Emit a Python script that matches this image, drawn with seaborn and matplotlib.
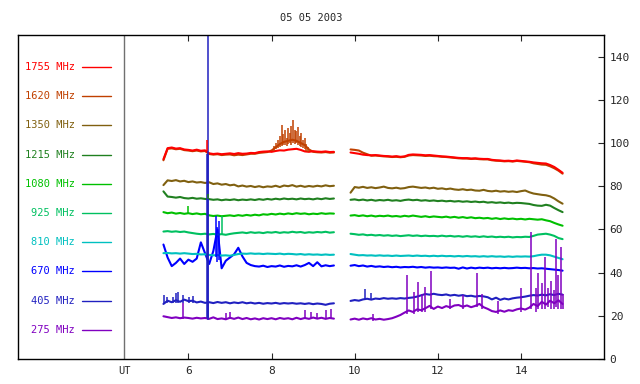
import numpy as np
import pandas as pd
import matplotlib
matplotlib.use("Agg")
import matplotlib.pyplot as plt
import seaborn as sns

sns.set_style("white")
plt.rcParams['font.family'] = ['DejaVu Sans Mono']

# sampling grid (UT hours) of the two recording segments
t_a = np.round(np.arange(5.4, 9.55, 0.1), 2)
t_b = np.round(np.arange(9.9, 15.05, 0.1), 2)

bands = ["1755", "1620", "1350", "1215", "1080", "925", "810", "670", "405", "275"]
colors = ["#ff0000", "#c04000", "#806010", "#208020", "#00c000",
          "#00c060", "#00c0c0", "#0000ff", "#2020c0", "#8000c0"]

# flux values (segment a: 5.4-9.5 UT, segment b: 9.9-15.0 UT)
f1755_a = [92.5, 97.6, 97.9, 97.4, 97.6, 97.0, 96.8, 96.5, 96.9, 96.4, 96.6, 95.2, 94.9, 95.1,
           94.8, 95.0, 95.2, 94.9, 95.3, 95.0, 95.1, 95.4, 95.3, 95.8, 96.0, 96.1, 95.9, 96.3,
           96.6, 96.5, 96.9, 97.1, 97.3, 96.8, 96.1, 95.9, 96.2, 96.0, 95.9, 96.1, 95.8, 95.9]
f1755_b = [95.6, 95.3, 95.0, 94.6, 94.4, 94.3, 94.4, 94.2, 94.0, 93.9, 93.7, 93.9, 93.6, 93.8,
           94.5, 94.7, 94.6, 94.5, 94.3, 94.4, 94.2, 94.0, 93.8, 93.7, 93.5, 93.3, 93.1, 93.0,
           93.0, 92.8, 92.9, 92.7, 92.6, 92.6, 92.2, 92.0, 91.9, 91.7, 91.8, 91.6, 91.9, 91.7,
           91.5, 91.3, 91.0, 90.8, 90.6, 90.5, 89.8, 88.9, 87.6, 86.2]
f1620_a = [92.0, 97.3, 97.5, 97.1, 97.3, 96.7, 96.5, 96.2, 96.5, 96.1, 96.3, 94.9, 94.6, 94.8,
           94.4, 94.6, 94.7, 94.3, 94.6, 94.4, 94.7, 95.0, 95.0, 95.4, 95.6, 95.8, 96.5, 98.0,
           99.5, 100.5, 101.0, 101.5, 101.0, 100.0, 99.0, 97.0, 95.9, 95.7, 95.6, 95.8, 95.5, 95.6]
f1620_b = [97.0, 96.8, 96.5, 95.5, 94.8, 94.1, 94.2, 94.0, 93.8, 93.7, 93.5, 93.6, 93.4, 93.6,
           94.2, 94.4, 94.3, 94.2, 94.0, 94.1, 93.9, 93.8, 93.6, 93.5, 93.3, 93.1, 92.9, 92.8,
           92.8, 92.6, 92.7, 92.5, 92.4, 92.4, 92.0, 91.8, 91.7, 91.5, 91.6, 91.4, 91.7, 91.5,
           91.3, 91.1, 90.6, 90.3, 90.0, 89.9, 89.2, 88.3, 87.2, 85.8]
f1350_a = [80.5, 82.7, 82.4, 82.8, 82.2, 82.5, 81.9, 82.2, 81.7, 81.9, 81.5, 81.8, 81.0, 81.3,
           80.7, 81.0, 80.4, 80.7, 79.9, 80.3, 79.8, 80.1, 79.6, 80.0, 79.5, 79.9, 79.7, 80.2,
           79.6, 80.3, 80.0, 80.5, 79.8, 80.2, 79.7, 80.1, 79.8, 80.2, 79.9, 80.4, 80.0, 80.2]
f1350_b = [77.0, 79.6, 79.3, 79.7, 79.2, 79.5, 79.1, 79.4, 79.8, 79.2, 79.0, 79.3, 78.9, 79.1,
           79.6, 79.8, 79.5, 79.2, 79.4, 79.0, 79.3, 78.8, 79.0, 78.6, 78.9, 78.5, 78.3, 78.6,
           78.2, 78.4, 78.0, 77.9, 78.3, 77.8, 77.6, 77.9, 77.5, 77.7, 77.4, 77.6, 77.3, 77.7,
           78.0, 77.2, 76.6, 76.3, 76.0, 75.8, 75.3, 74.3, 73.0, 71.9]
f1215_a = [77.6, 75.2, 75.0, 74.7, 75.0, 74.5, 74.3, 74.6, 74.2, 74.4, 74.1, 74.0, 73.7, 73.9,
           73.5, 73.8, 73.6, 73.9, 73.5, 73.8, 73.6, 73.9, 73.6, 74.0, 73.7, 74.1, 73.8, 74.2,
           73.9, 74.3, 74.0, 74.2, 73.9, 74.3, 74.0, 74.2, 73.9, 74.3, 74.0, 74.4, 74.1, 74.3]
f1215_b = [73.7, 73.9, 73.5, 73.8, 73.4, 73.7, 73.3, 73.6, 73.4, 73.7, 73.3, 73.5, 73.2, 73.6,
           73.8, 73.5, 73.7, 73.3, 73.5, 73.2, 73.4, 73.1, 73.3, 73.0, 73.2, 72.9, 73.1, 72.8,
           73.0, 72.7, 72.9, 72.6, 72.8, 72.4, 72.6, 72.3, 72.5, 72.2, 72.4, 72.1, 72.3, 72.2,
           72.0, 71.8, 71.3, 71.0, 70.9, 71.4, 71.0, 69.9, 68.9, 68.0]
f1080_a = [68.0, 67.5, 67.8, 67.3, 67.6, 67.2, 67.5, 67.1, 67.4, 67.0, 67.2, 66.5, 66.2, 66.4,
           66.1, 66.3, 66.5, 66.2, 66.6, 66.3, 66.7, 66.4, 66.8, 66.5, 67.0, 66.8, 67.2, 66.9,
           67.3, 67.0, 67.4, 67.1, 67.5, 67.2, 67.4, 67.0, 67.3, 67.1, 67.5, 67.2, 67.4, 67.3]
f1080_b = [66.4, 66.6, 66.2, 66.5, 66.1, 66.4, 66.0, 66.3, 66.1, 66.4, 66.0, 66.2, 65.9, 66.3,
           66.0, 66.4, 66.1, 65.8, 66.1, 65.7, 66.0, 65.8, 65.6, 65.9, 65.5, 65.8, 65.4, 65.7,
           65.3, 65.6, 65.2, 65.4, 65.1, 65.3, 64.9, 65.2, 64.8, 65.1, 64.8, 65.0, 64.7, 64.9,
           64.6, 64.9, 64.7, 64.5, 64.7, 64.2, 63.8, 63.0, 62.3, 61.7]
f925_a = [59.0, 59.2, 58.9, 59.1, 58.8, 59.0, 58.6, 58.3, 58.0, 57.8, 58.0, 57.7, 57.9, 57.6,
          57.8, 57.5, 57.9, 58.2, 58.4, 58.6, 58.3, 58.7, 58.4, 58.6, 58.3, 58.7, 58.5, 58.8,
          58.4, 58.7, 58.5, 58.9, 58.6, 58.8, 58.4, 58.7, 58.5, 58.8, 58.6, 58.9, 58.5, 58.7]
f925_b = [58.0, 57.8, 57.5, 57.7, 57.3, 57.5, 57.2, 57.4, 57.1, 57.3, 57.0, 57.2, 56.9, 57.1,
          57.3, 57.0, 57.2, 56.9, 57.1, 56.9, 57.0, 56.8, 57.1, 56.8, 57.0, 56.7, 56.9, 56.6,
          56.9, 56.6, 56.8, 56.5, 56.8, 56.5, 56.7, 56.4, 56.6, 56.4, 56.6, 56.3, 56.5, 56.4,
          56.6, 56.5, 57.0, 57.6, 57.8, 58.0, 57.6, 57.0, 56.0, 55.5]
f810_a = [49.0, 49.1, 48.9, 49.0, 48.8, 49.0, 48.8, 48.6, 48.7, 48.4, 48.5, 48.2, 48.0, 48.1,
          47.9, 48.0, 47.8, 48.2, 48.6, 48.8, 48.7, 48.9, 48.7, 48.8, 48.6, 48.8, 48.7, 48.6,
          48.8, 48.5, 48.7, 48.6, 48.4, 48.6, 48.3, 48.5, 48.3, 48.4, 48.2, 48.4, 48.2, 48.3]
f810_b = [48.6, 48.3, 48.0, 48.1, 47.9, 48.0, 47.8, 48.0, 47.8, 47.9, 47.7, 47.9, 47.7, 47.8,
          47.9, 47.7, 47.9, 47.7, 47.8, 47.6, 47.8, 47.6, 47.8, 47.6, 47.7, 47.5, 47.7, 47.5,
          47.7, 47.5, 47.6, 47.4, 47.6, 47.4, 47.6, 47.4, 47.5, 47.3, 47.5, 47.3, 47.5, 47.4,
          47.5, 47.4, 47.6, 48.0, 48.3, 48.3, 48.0, 47.4, 46.8, 46.2]
f670_a = [53.0, 47.0, 43.0, 44.5, 46.5, 44.0, 46.0, 45.0, 46.5, 54.0, 49.0, 44.0, 50.0, 60.0,
          42.0, 45.5, 47.0, 48.5, 51.5, 47.5, 44.5, 43.5, 43.0, 42.8, 43.2, 42.6, 43.0, 42.8,
          43.3, 42.7, 43.1, 42.9, 43.4, 42.8, 43.5, 44.5, 43.0, 44.8, 42.9, 43.4, 43.0, 43.3]
f670_b = [43.2, 43.5, 43.0, 43.3, 42.8, 43.1, 42.7, 42.9, 42.6, 42.8, 42.5, 42.7, 42.4, 42.6,
          42.5, 42.7, 42.4, 42.6, 42.3, 42.5, 42.3, 42.4, 42.2, 42.4, 42.2, 42.3, 41.8, 42.4,
          41.9, 42.3, 42.0, 42.3, 42.1, 42.3, 42.0, 42.2, 42.0, 42.2, 42.0, 42.1, 42.3, 42.1,
          42.2, 42.0, 42.1, 41.9, 42.0, 41.8, 41.6, 41.4, 41.2, 40.9]
f405_a = [25.5, 27.0, 26.3, 27.2, 26.5, 27.5, 26.8, 27.0, 26.2, 26.6, 26.0, 26.3, 25.9, 26.4,
          26.0, 26.3, 25.8, 26.2, 25.9, 26.3, 25.8, 26.1, 25.7, 26.0, 25.6, 25.9, 25.7, 26.0,
          25.6, 25.9, 25.7, 25.9, 25.6, 25.8, 25.5, 25.8, 25.4, 25.7, 25.5, 25.1, 25.6, 25.8]
f405_b = [26.9, 27.3, 27.0, 27.6, 27.9, 27.5, 28.0, 27.8, 28.2, 27.9, 28.1, 27.9, 28.2, 28.0,
          28.3, 28.5, 28.9, 29.5, 30.1, 29.8, 30.2, 29.8, 29.6, 29.9, 29.4, 29.7, 29.3, 29.6,
          29.1, 29.3, 28.9, 29.2, 29.0, 28.6, 27.6, 28.4, 27.4, 28.0, 27.6, 28.1, 28.4, 28.6,
          28.9, 29.3, 29.6, 29.4, 29.8, 29.5, 30.0, 29.6, 30.2, 29.8]
f275_a = [19.8, 19.4, 19.0, 19.3, 18.9, 19.2, 19.0, 18.7, 19.1, 18.8, 19.0, 18.6, 19.3, 18.5,
          18.8, 18.4, 19.1, 18.6, 19.2, 18.5, 19.0, 18.4, 18.8, 18.3, 18.9, 18.5, 18.9, 18.4,
          19.0, 18.6, 18.9, 18.4, 19.1, 18.5, 19.0, 18.6, 19.2, 18.7, 19.1, 18.6, 19.0, 18.7]
f275_b = [18.3, 18.7, 18.2, 18.8, 18.4, 18.9, 18.3, 18.6, 18.2, 18.5, 18.9, 19.6, 20.4, 21.5,
          22.5, 21.8, 23.0, 22.6, 23.5, 24.6, 23.2, 24.3, 23.6, 24.5, 23.9, 24.8, 25.0, 24.2,
          24.8, 24.0, 24.6, 25.5, 24.0, 23.2, 22.2, 21.8, 22.5, 21.9, 22.6, 22.3, 23.0, 23.4,
          22.9, 23.8, 25.5, 24.5, 26.5, 25.2, 27.0, 25.8, 27.2, 25.5]

# short spikes / bursts: band, UT, low and high flux
spike_band = (["1620"] * 21 + ["1755", "1215", "1080", "925"] + ["670"] * 3
              + ["405"] * 13 + ["275"] * 34)
spike_t = [8.05, 8.1, 8.15, 8.2, 8.24, 8.28, 8.32, 8.36, 8.4, 8.44, 8.48, 8.52, 8.56, 8.6,
           8.64, 8.68, 8.72, 8.76, 8.8, 8.84, 8.88,
           6.45, 6.46, 6.0, 6.8,
           6.66, 6.7, 6.74,
           6.46, 6.45, 6.47, 5.42, 5.48, 5.62, 5.7, 5.76, 5.88, 6.02, 6.1, 10.25, 10.4,
           5.86, 6.46, 6.9, 7.0, 8.8, 8.95, 9.1, 9.3, 9.42,
           10.45, 11.27, 11.42, 11.52, 11.62, 11.7, 11.83, 12.3, 12.6, 12.95, 13.05, 13.45,
           14.0, 14.24, 14.35, 14.42, 14.5, 14.58, 14.65, 14.72, 14.8, 14.85, 14.9, 14.95, 15.0]
spike_lo = [96.5, 97, 97.5, 98, 98.5, 99, 99, 98.5, 99.5, 100, 99, 100, 99.5, 100,
            99, 98.5, 98, 97.5, 97, 96.5, 96,
            96.5, 74, 67, 57.5,
            47, 45, 46,
            18, 19, 19, 26, 26, 26, 26, 26, 26, 26, 26, 27.5, 27.5,
            18.5, 18.5, 18.5, 18.5, 18.5, 18.5, 18.5, 18.5, 18.5,
            17.5, 21, 21, 22, 22, 22, 23, 23, 23, 24, 23, 21,
            22, 23, 22, 23, 23, 23, 24, 23, 23, 24, 23, 23, 23]
spike_hi = [98.5, 100, 101.5, 103, 108.5, 104, 106, 102.5, 107, 104.5, 108, 110.8, 106, 105.5,
            107.5, 103, 104.5, 101.5, 102.5, 99.5, 98,
            101.5, 76.5, 71, 66,
            66, 61, 64,
            160, 95, 95, 29.5, 28.5, 28.5, 30.5, 31, 29.5, 28.5, 29, 32.5, 30.5,
            26, 26, 21.5, 22, 22.5, 22, 21.5, 22.5, 23,
            21, 39, 31, 35.7, 30, 33.5, 40.8, 28, 29.5, 40, 30, 27,
            33, 59, 33, 40, 35, 47, 33, 36, 32, 55.6, 39, 52, 30]

series_a = [f1755_a, f1620_a, f1350_a, f1215_a, f1080_a, f925_a, f810_a, f670_a, f405_a, f275_a]
series_b = [f1755_b, f1620_b, f1350_b, f1215_b, f1080_b, f925_b, f810_b, f670_b, f405_b, f275_b]

frames = []
for name, va, vb in zip(bands, series_a, series_b):
    frames.append(pd.DataFrame({"ut": t_a, "flux": va, "band": name, "seg": 0}))
    frames.append(pd.DataFrame({"ut": t_b, "flux": vb, "band": name, "seg": 1}))
df = pd.concat(frames, ignore_index=True)
spikes = pd.DataFrame({"band": spike_band, "ut": spike_t, "lo": spike_lo, "hi": spike_hi})

palette = dict(zip(bands, colors))

fig = plt.figure(figsize=(6.4, 3.84), dpi=100)
ax = fig.add_axes([0.028, 0.065, 0.916, 0.844])

sns.lineplot(data=df, x="ut", y="flux", hue="band", units="seg", estimator=None,
             sort=False, palette=palette, hue_order=bands[::-1], legend=False,
             linewidth=1.5, ax=ax)
for name in bands[::-1]:
    s = spikes[spikes["band"] == name]
    if len(s):
        ax.vlines(s["ut"], s["lo"], s["hi"], color=palette[name], linewidth=1.1)

ax.set_xlim(1.9, 16.0)
ax.set_ylim(0, 150)
ax.axvline(4.45, color="#707070", linewidth=1)

# legend in the left panel
for i, (name, col) in enumerate(zip(bands, colors)):
    y = 0.901 - i * 0.0901
    ax.text(0.097, y, f"{name} MHz", color=col, fontsize=7.5, ha="right", va="center",
            transform=ax.transAxes)
    ax.plot([0.109, 0.159], [y, y], color=col, linewidth=1, transform=ax.transAxes)

ax.text(0.181, -0.02, "UT", fontsize=7.5, ha="center", va="top", transform=ax.transAxes)

ax.set_xticks([6, 8, 10, 12, 14])
ax.set_yticks(range(0, 141, 20))
ax.yaxis.tick_right()
ax.tick_params(axis="y", direction="in", length=4, right=True, left=False,
               labelsize=8, pad=4)
ax.tick_params(axis="x", direction="in", length=4, top=True, bottom=True,
               labelsize=8, pad=5)
ax.set_xlabel("")
ax.set_ylabel("")
for sp in ax.spines.values():
    sp.set_color("black")
    sp.set_linewidth(1)
ax.set_title("05 05 2003", fontsize=7.5, pad=10)

fig.savefig("out.png", dpi=100)
